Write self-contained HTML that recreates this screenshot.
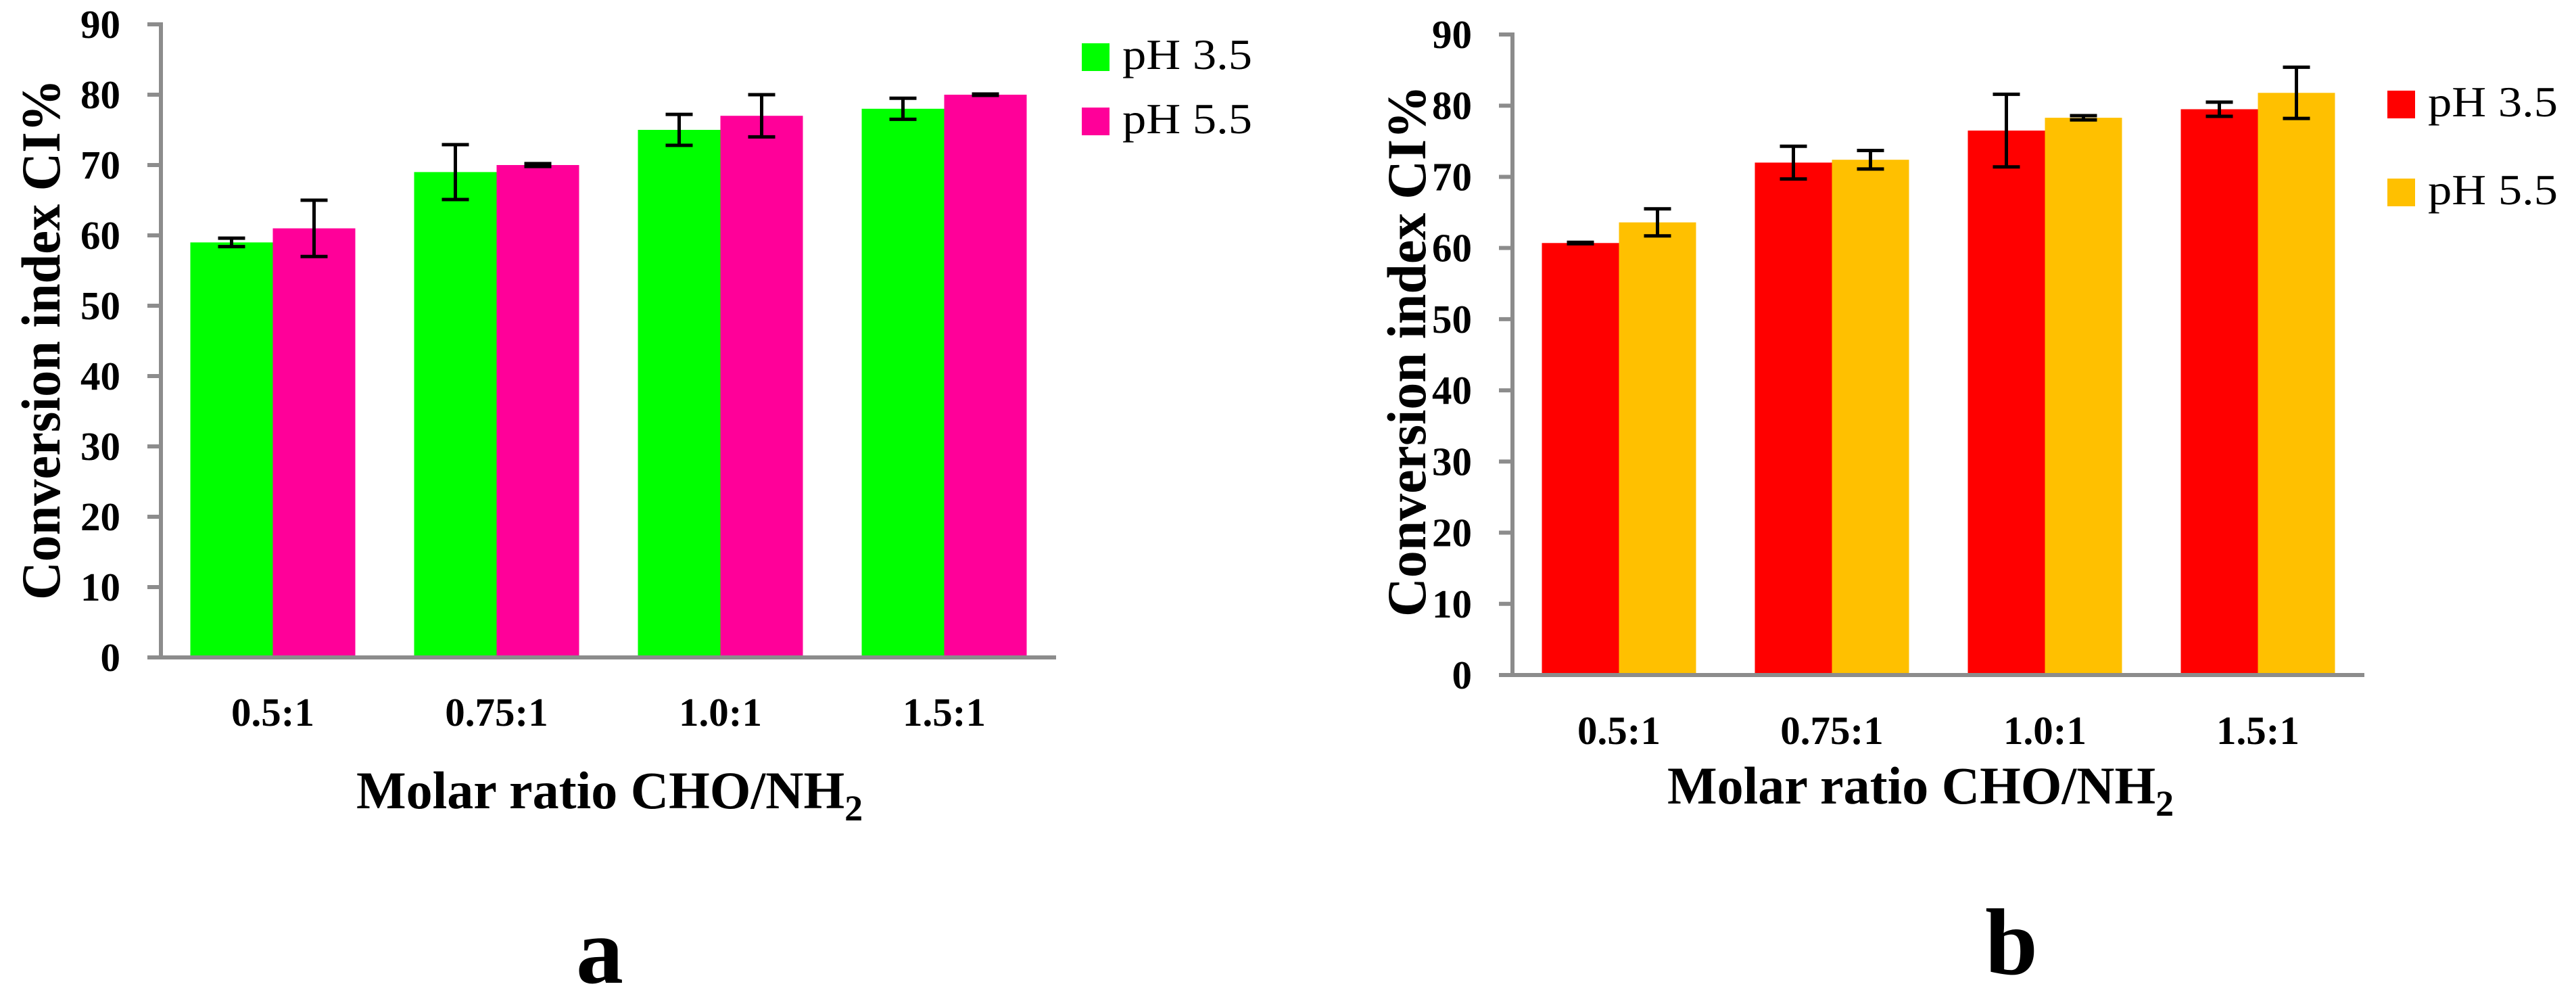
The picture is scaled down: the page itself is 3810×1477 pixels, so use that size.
<!DOCTYPE html>
<html><head><meta charset="utf-8"><style>
html,body{margin:0;padding:0;background:#fff;}
svg{display:block;font-family:"Liberation Serif",serif;font-weight:bold;}
</style></head><body>
<svg id="fig" width="3810" height="1477" viewBox="0 0 3810 1477"></svg>
<script>
const categories = ["0.5:1","0.75:1","1.0:1","1.5:1"];
const yTicks = [0,10,20,30,40,50,60,70,80,90];
const seriesNames = ["pH 3.5","pH 5.5"];
const aPh35 = [59, 69, 75, 78];
const aPh35Err = [0.6, 3.9, 2.2, 1.5];
const aPh55 = [61, 70, 77, 80];
const aPh55Err = [4, 0.2, 3, 0.1];
const bPh35 = [60.7, 72, 76.5, 79.5];
const bPh35Err = [0.1, 2.3, 5.1, 1.0];
const bPh55 = [63.6, 72.4, 78.3, 81.8];
const bPh55Err = [1.9, 1.3, 0.3, 3.6];

const NS = "http://www.w3.org/2000/svg";
const svg = document.getElementById("fig");
function mk(tag, attrs, parent, text){
  const e = document.createElementNS(NS, tag);
  for (const k in attrs) e.setAttribute(k, attrs[k]);
  if (text !== undefined) e.textContent = text;
  (parent || svg).appendChild(e);
  return e;
}

function chart(cfg){
  const g = mk("g", {});
  
  
  const y = v => cfg.y0 - (cfg.y0 - cfg.y90) * v / 90;
  const band = (cfg.xEnd - cfg.x0) / categories.length;
  const series = [[cfg.s1, cfg.e1, cfg.c1], [cfg.s2, cfg.e2, cfg.c2]];
  categories.forEach((cat, i) => {
    const cx = cfg.x0 + band * (i + 0.5);
    series.forEach((s, j) => {
      const v = s[0][i];
      const bx = j === 0 ? cx - cfg.bw : cx;
      const r = mk("rect", {x: bx, y: y(v), width: cfg.bw, height: cfg.y0 - y(v), fill: s[2]}, g);
      
      
    });
  });
  const ax = mk("g", {stroke: "#8c8c8c", "stroke-width": 6, fill: "none"}, g);
  
  
  mk("line", {x1: cfg.x0, y1: y(90) - 3, x2: cfg.x0, y2: cfg.y0 + 3}, ax);
  mk("line", {x1: cfg.x0 - 20, y1: cfg.y0, x2: cfg.xEnd, y2: cfg.y0}, ax);
  yTicks.forEach(t => {
    mk("line", {x1: cfg.x0 - 20, y1: y(t), x2: cfg.x0, y2: y(t)}, ax);
    const tl = mk("text", {x: cfg.x0 - 60, y: y(t) + 20, "text-anchor": "end", "font-size": 59}, g, String(t));
    
    
  });
  categories.forEach((cat, i) => {
    const cx = cfg.x0 + band * (i + 0.5);
    series.forEach((s, j) => {
      const v = s[0][i], e = s[1][i];
      const ex = j === 0 ? cx - cfg.bw / 2 : cx + cfg.bw / 2;
      const eg = mk("g", {stroke: "#000", "stroke-width": 5}, g);
      
      
      mk("line", {x1: ex, y1: y(v + e), x2: ex, y2: y(v - e)}, eg);
      mk("line", {x1: ex - 20, y1: y(v + e), x2: ex + 20, y2: y(v + e)}, eg);
      mk("line", {x1: ex - 20, y1: y(v - e), x2: ex + 20, y2: y(v - e)}, eg);
    });
    const xl = mk("text", {x: cx, y: cfg.xLabY, "text-anchor": "middle", "font-size": 59}, g, cat);
    
    
  });
  const yt = mk("text", {x: 0, y: 0, "text-anchor": "middle", "font-size": 82, textLength: cfg.ytLen, lengthAdjust: "spacingAndGlyphs",
    transform: `translate(${cfg.ytX},${cfg.ytY}) rotate(-90)`}, g, "Conversion index CI%");
  
  
  const xt = mk("text", {x: cfg.xtX, y: cfg.xtY, "font-size": 78}, g);
  
  
  mk("tspan", {}, xt, "Molar ratio CHO/NH");
  mk("tspan", {dy: 18, "font-size": 54}, xt, "2");
  [[cfg.c1, cfg.l1], [cfg.c2, cfg.l2]].forEach((L, j) => {
    const lg = mk("g", {}, g);
    
    
    mk("rect", {x: cfg.lx, y: L[1], width: 41, height: 41, fill: L[0]}, lg);
    mk("text", {x: cfg.lx + 60, y: L[1] + 38, "font-size": 64, "font-weight": "normal", textLength: 192, lengthAdjust: "spacingAndGlyphs"}, lg, seriesNames[j]);
  });
  const pl = mk("text", {x: cfg.pX, y: cfg.pY, "text-anchor": "middle", "font-size": 140}, g, cfg.tag);
  
  
}

chart({name: "chart-a", tag: "a", x0: 238, xEnd: 1562, y0: 972, y90: 36, bw: 122,
  s1: aPh35, e1: aPh35Err, s2: aPh55, e2: aPh55Err, c1: "#00ff00", c2: "#ff0099",
  xLabY: 1073, ytX: 88, ytY: 502, ytLen: 770, xtX: 527, xtY: 1195,
  lx: 1600, l1: 64, l2: 159, pX: 887, pY: 1453});
chart({name: "chart-b", tag: "b", x0: 2237, xEnd: 3497, y0: 998, y90: 51, bw: 114,
  s1: bPh35, e1: bPh35Err, s2: bPh55, e2: bPh55Err, c1: "#ff0000", c2: "#ffc000",
  xLabY: 1100, ytX: 2108, ytY: 519, ytLen: 786, xtX: 2466, xtY: 1188,
  lx: 3531, l1: 134, l2: 264, pX: 2975, pY: 1440});
</script>
</body></html>
